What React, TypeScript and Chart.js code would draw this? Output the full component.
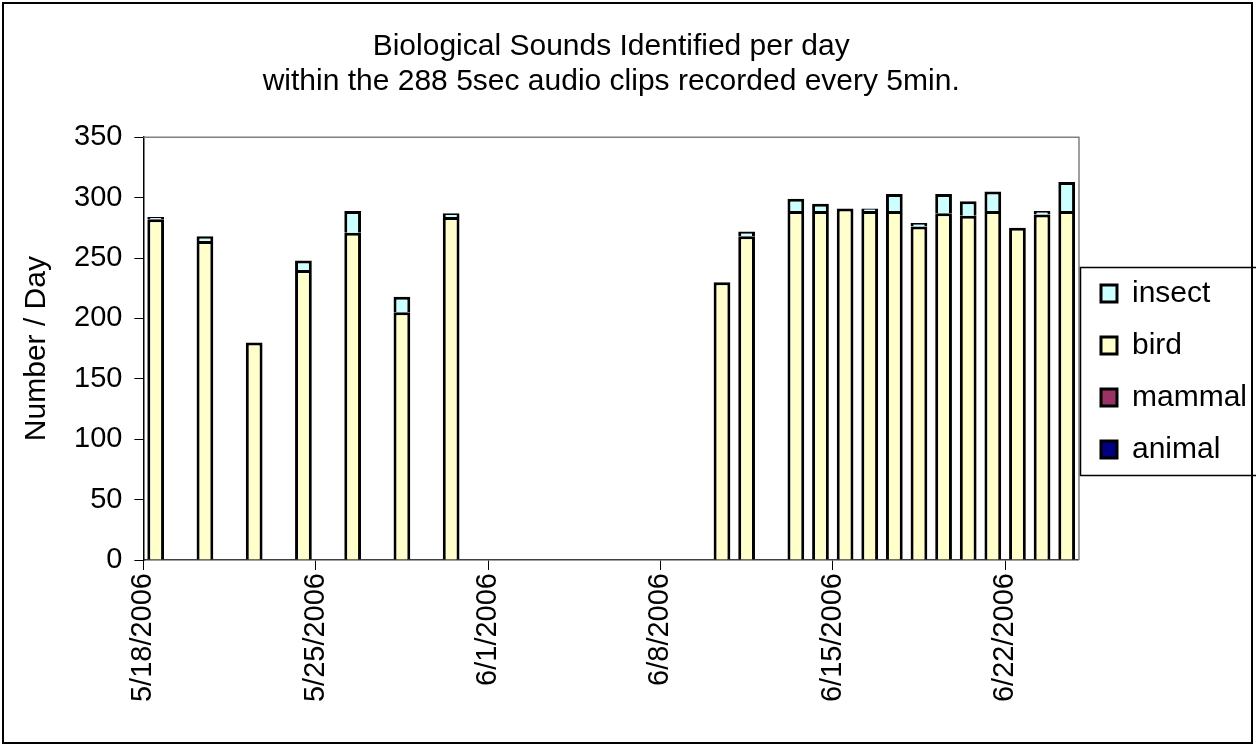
import React, { useEffect, useRef } from 'react';
import { Chart, registerables } from 'chart.js';

Chart.register(...registerables);

const titleLines = ['Biological Sounds Identified per day', 'within the 288 5sec audio clips recorded every 5min.'];
const yAxisTitle = 'Number / Day';
const xTickLabels = ['5/18/2006', '5/25/2006', '6/1/2006', '6/8/2006', '6/15/2006', '6/22/2006'];
const axisStart = '5/18/2006';
const axisEnd = '6/25/2006';
const tickEveryDays = 7;
const yMin = 0;
const yMax = 350;
const yStep = 50;

const barDates = [
  '5/18/2006', '5/20/2006', '5/22/2006', '5/24/2006', '5/26/2006', '5/28/2006', '5/30/2006',
  '6/10/2006', '6/11/2006', '6/13/2006', '6/14/2006', '6/15/2006', '6/16/2006', '6/17/2006',
  '6/18/2006', '6/19/2006', '6/20/2006', '6/21/2006', '6/22/2006', '6/23/2006', '6/24/2006',
];
const animal = [0, 0, 0, 0, 0, 0, 0, 0, 0, 0, 0, 0, 0, 0, 0, 0, 0, 0, 0, 0, 0];
const mammal = [0, 0, 0, 0, 0, 0, 0, 0, 0, 0, 0, 0, 0, 0, 0, 0, 0, 0, 0, 0, 0];
const bird = [282, 264, 180, 240, 271, 205, 284, 230, 268, 289, 289, 291, 289, 289, 276, 287, 285, 289, 275, 286, 289];
const insect = [2, 4, 0, 8, 18, 13, 3, 0, 4, 10, 6, 0, 2, 14, 3, 16, 12, 16, 0, 3, 24];

const seriesNames = ['animal', 'mammal', 'bird', 'insect'];
const seriesColors = ['#000080', '#993366', '#FFFFCC', '#CCFFFF'];

function dayNumber(s: string): number {
  const [m, d, y] = s.split('/').map(Number);
  return Date.UTC(y, m - 1, d) / 86400000;
}
const startDay = dayNumber(axisStart);
const totalDays = dayNumber(axisEnd) - startDay;

Chart.defaults.font.family = "Arial, 'Liberation Sans', sans-serif";
Chart.defaults.color = '#000';

const framePlugin = {
  id: 'frames',
  afterDraw(chart: any) {
    const { ctx, chartArea: a, legend } = chart;
    ctx.save();
    ctx.strokeStyle = '#808080';
    ctx.lineWidth = 1.5;
    ctx.beginPath();
    ctx.moveTo(a.left, a.top);
    ctx.lineTo(a.right, a.top);
    ctx.lineTo(a.right, a.bottom);
    ctx.stroke();
    if (legend && legend.legendHitBoxes && legend.legendHitBoxes.length) {
      const hb = legend.legendHitBoxes;
      const top = hb[0].top - 11;
      const last = hb[hb.length - 1];
      const bottom = last.top + last.height + 11;
      ctx.strokeStyle = '#000';
      ctx.lineWidth = 1.5;
      ctx.strokeRect(legend.left + 1.5, top, legend.right - legend.left + 10, bottom - top);
    }
    ctx.restore();
  },
};

export default function App() {
  const ref = useRef<HTMLCanvasElement>(null);
  useEffect(() => {
    const seriesValues = [animal, mammal, bird, insect];
    const datasets = seriesNames.map((name, si) => ({
      label: name,
      data: barDates.map((d, i) => ({ x: dayNumber(d) - startDay + 0.5, y: seriesValues[si][i] })),
      backgroundColor: seriesColors[si],
      borderColor: '#000',
      borderWidth: 3,
      categoryPercentage: 1,
      barPercentage: 0.68,
    }));
    const chart = new Chart(ref.current!, {
      type: 'bar',
      data: { datasets },
      plugins: [framePlugin],
      options: {
        animation: false,
        responsive: false,
        layout: { padding: { left: 0, right: -1, top: 0, bottom: 3 } },
        plugins: {
          title: {
            display: true,
            text: titleLines,
            fullSize: false,
            color: '#000',
            font: { size: 30, weight: 'normal', lineHeight: 1.17 },
            padding: { top: 29, bottom: 38 },
          },
          legend: {
            position: 'right',
            reverse: true,
            labels: {
              color: '#000',
              font: { size: 30 },
              boxWidth: 16,
              boxHeight: 17,
              padding: 22,
            },
          },
          tooltip: { enabled: false },
        },
        scales: {
          x: {
            type: 'linear',
            stacked: true,
            offset: false,
            min: 0,
            max: totalDays,
            afterFit: (s: any) => { s.height = 183; },
            grid: { offset: false, drawOnChartArea: false, tickLength: 10, color: '#000', lineWidth: 1 },
            border: { color: '#404040', width: 1.5 },
            ticks: {
              stepSize: tickEveryDays,
              includeBounds: false,
              autoSkip: false,
              minRotation: 90,
              maxRotation: 90,
              padding: 3,
              font: { size: 29 },
              color: '#000',
              callback: (v: any) => xTickLabels[Math.round(Number(v) / tickEveryDays)] ?? '',
            },
          },
          y: {
            stacked: true,
            min: yMin,
            max: yMax,
            grid: { drawOnChartArea: false, tickLength: 9, color: '#000' },
            border: { color: '#000', width: 1.5 },
            ticks: { stepSize: yStep, padding: 12, font: { size: 29 }, color: '#000' },
            title: {
              display: true,
              text: yAxisTitle,
              color: '#000',
              font: { size: 30 },
              padding: { top: 19, bottom: 7 },
            },
          },
        },
      },
    } as any);
    return () => chart.destroy();
  }, []);
  return (
    <div style={{ position: 'fixed', left: 0, top: 0, width: 1256, height: 746, background: '#fff', overflow: 'hidden' }}>
      <canvas ref={ref} width={1256} height={746} style={{ position: 'absolute', left: 0, top: 0 }} />
      <div style={{ position: 'absolute', left: 2, top: 2, width: 1251, height: 742, border: '2px solid #000', boxSizing: 'border-box', pointerEvents: 'none' }} />
    </div>
  );
}
